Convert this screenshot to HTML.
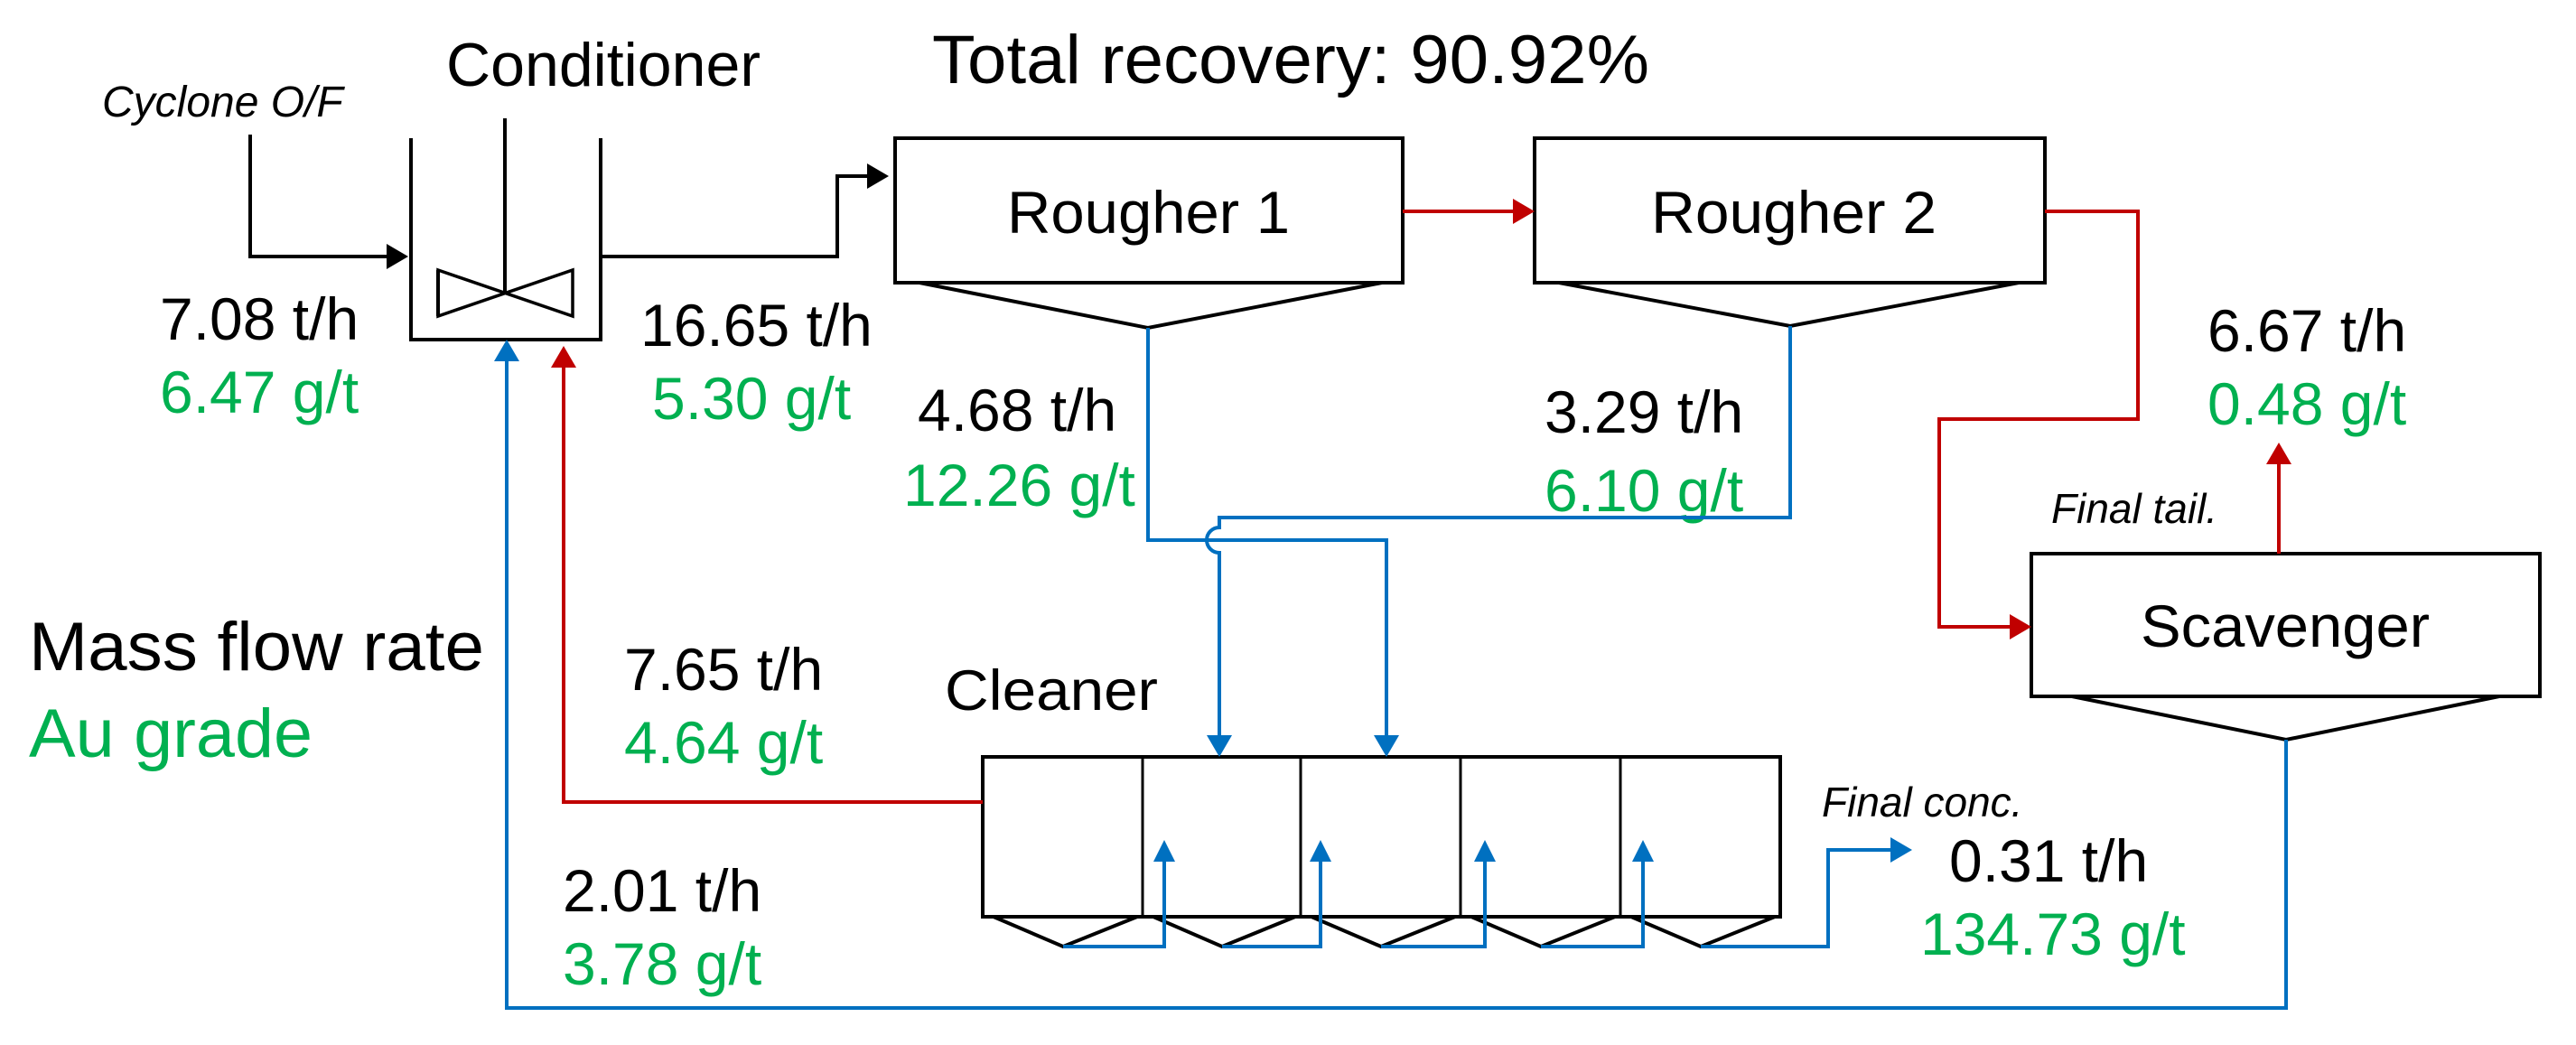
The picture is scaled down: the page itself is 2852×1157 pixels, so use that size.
<!DOCTYPE html>
<html><head><meta charset="utf-8"><style>
html,body{margin:0;padding:0;background:#fff;}
svg{display:block;}
text{font-family:"Liberation Sans",Arial,sans-serif;}
.k{fill:#000}.g{fill:#00b050}
</style></head><body>
<svg width="2852" height="1157" viewBox="0 0 2852 1157" xmlns="http://www.w3.org/2000/svg">
<rect width="2852" height="1157" fill="#fff"/>
<g font-size="66">
<text x="113" y="129" font-size="48" font-style="italic" class="k">Cyclone O/F</text>
<text x="494" y="95" font-size="68" class="k" textLength="348" lengthAdjust="spacingAndGlyphs">Conditioner</text>
<text x="1032" y="92" font-size="76" class="k" textLength="794" lengthAdjust="spacingAndGlyphs">Total recovery:  90.92%</text>
<text x="177" y="376" class="k">7.08 t/h</text>
<text x="177" y="457" class="g">6.47 g/t</text>
<text x="709" y="383" class="k">16.65 t/h</text>
<text x="722" y="464" class="g">5.30 g/t</text>
<text x="1016" y="477" class="k">4.68 t/h</text>
<text x="1000" y="560" class="g">12.26 g/t</text>
<text x="1710" y="479" class="k">3.29 t/h</text>
<text x="1710" y="566" class="g">6.10 g/t</text>
<text x="2444" y="389" class="k">6.67 t/h</text>
<text x="2444" y="470" class="g">0.48 g/t</text>
<text x="2271" y="579" font-size="46" font-style="italic" class="k">Final tail.</text>
<text x="32" y="742" font-size="76" class="k" textLength="504" lengthAdjust="spacingAndGlyphs">Mass flow rate</text>
<text x="32" y="838" font-size="76" class="g" textLength="314" lengthAdjust="spacingAndGlyphs">Au grade</text>
<text x="691" y="764" class="k">7.65 t/h</text>
<text x="691" y="845" class="g">4.64 g/t</text>
<text x="1046" y="786" font-size="63" class="k" textLength="236" lengthAdjust="spacingAndGlyphs">Cleaner</text>
<text x="623" y="1009" class="k">2.01 t/h</text>
<text x="623" y="1090" class="g">3.78 g/t</text>
<text x="2017" y="904" font-size="46" font-style="italic" class="k">Final conc.</text>
<text x="2158" y="976" class="k">0.31 t/h</text>
<text x="2126" y="1057" class="g">134.73 g/t</text>
<text x="1115" y="258" font-size="66" class="k" textLength="313" lengthAdjust="spacingAndGlyphs">Rougher 1</text>
<text x="1828" y="258" font-size="66" class="k" textLength="316" lengthAdjust="spacingAndGlyphs">Rougher 2</text>
<text x="2370" y="716" font-size="66" class="k" textLength="320" lengthAdjust="spacingAndGlyphs">Scavenger</text>
</g>

<g fill="none" stroke="#000" stroke-width="4">
<polyline points="455,153 455,376 665,376 665,153"/>
<line x1="559" y1="131" x2="559" y2="324"/>
<polygon points="485,299 634,350 634,299 485,350" stroke-width="3.5"/>
<line x1="485" y1="299" x2="485" y2="350"/>
<rect x="991" y="153" width="562" height="160"/>
<polyline points="1018,313 1271,363 1530,313"/>
<rect x="1699" y="153" width="565" height="160"/>
<polyline points="1726,313 1982,361 2235,313"/>
<rect x="2249" y="613" width="563" height="158"/>
<polyline points="2294,771 2531,819 2767,771"/>
<rect x="1088" y="838" width="883" height="177"/>
<line x1="1265" y1="838" x2="1265" y2="1015" stroke-width="3"/>
<line x1="1440" y1="838" x2="1440" y2="1015" stroke-width="3"/>
<line x1="1617" y1="838" x2="1617" y2="1015" stroke-width="3"/>
<line x1="1794" y1="838" x2="1794" y2="1015" stroke-width="3"/>
<polyline points="1100,1015 1177,1048 1259,1015"/>
<polyline points="1277,1015 1353,1048 1434,1015"/>
<polyline points="1452,1015 1529,1048 1611,1015"/>
<polyline points="1629,1015 1706,1048 1788,1015"/>
<polyline points="1806,1015 1883,1048 1965,1015"/>
<polyline points="277,149 277,284 430,284"/>
<polyline points="665,284 927,284 927,195 962,195"/>
</g>
<g fill="#000">
<polygon points="452,284 428,270 428,298"/>
<polygon points="984,195 960,181 960,209"/>
</g>

<g fill="none" stroke="#c00000" stroke-width="4">
<polyline points="1553,234 1677,234"/>
<polyline points="2264,234 2367,234 2367,464 2147,464 2147,694 2227,694"/>
<polyline points="2523,613 2523,510"/>
<polyline points="1088,888 624,888 624,405"/>
</g>
<g fill="#c00000">
<polygon points="1699,234 1675,220 1675,248"/>
<polygon points="2249,694 2225,680 2225,708"/>
<polygon points="2523,490 2509,514 2537,514"/>
<polygon points="624,383 610,407 638,407"/>
</g>

<g fill="none" stroke="#0070c0" stroke-width="4">
<polyline points="2531,819 2531,1116 561,1116 561,398"/>
<polyline points="1271,363 1271,598 1535,598 1535,815"/>
<path d="M1982,361 L1982,573 L1350,573 L1350,584 A14,14 0 0 0 1350,612 L1350,815"/>
<polyline points="1177,1048 1289,1048 1289,952"/>
<polyline points="1353,1048 1462,1048 1462,952"/>
<polyline points="1529,1048 1644,1048 1644,952"/>
<polyline points="1706,1048 1819,1048 1819,952"/>
<polyline points="1883,1048 2024,1048 2024,941 2095,941"/>
</g>
<g fill="#0070c0">
<polygon points="561,376 547,400 575,400"/>
<polygon points="1535,838 1521,814 1549,814"/>
<polygon points="1350,838 1336,814 1364,814"/>
<polygon points="1289,930 1277,954 1301,954"/>
<polygon points="1462,930 1450,954 1474,954"/>
<polygon points="1644,930 1632,954 1656,954"/>
<polygon points="1819,930 1807,954 1831,954"/>
<polygon points="2117,941 2093,927 2093,955"/>
</g>
</svg>
</body></html>
